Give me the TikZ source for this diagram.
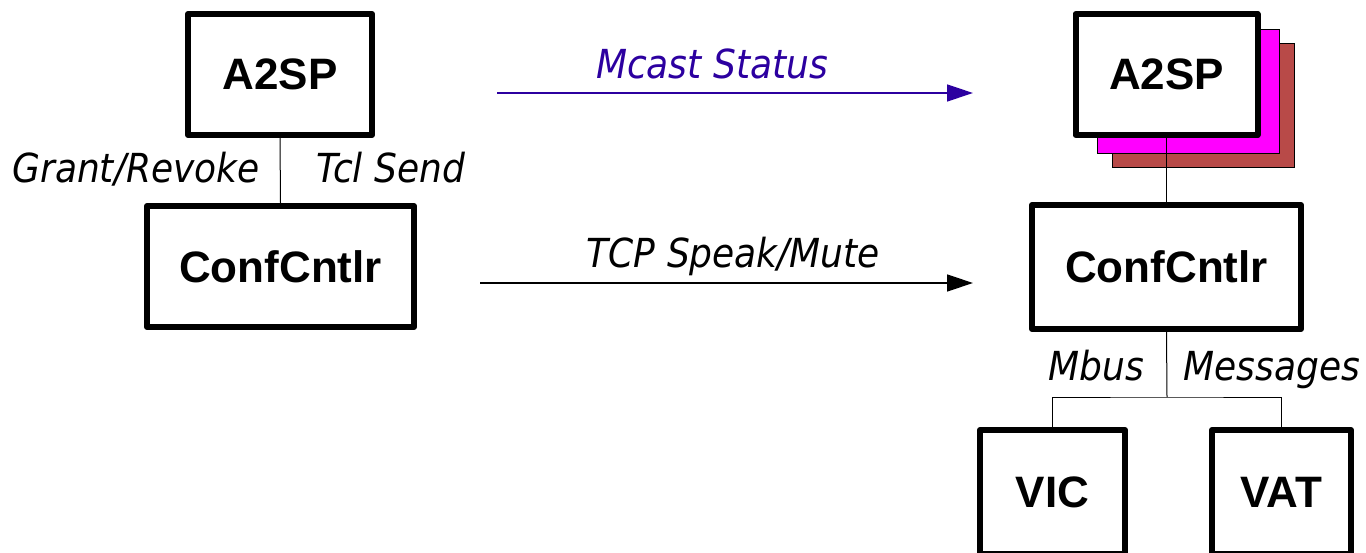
\documentclass[tikz,border=0pt]{standalone}
\usepackage{fontspec}
\setmainfont{Liberation Sans}
\newfontfamily\labfont{DejaVu Sans Condensed}
\usetikzlibrary{arrows.meta}
\definecolor{mcastblue}{RGB}{44,0,160}
\definecolor{stackmag}{RGB}{255,0,255}
\definecolor{stackbrown}{RGB}{184,74,72}
\tikzset{
  boxnode/.style={draw=black, line width=6pt, line join=round, fill=white, inner sep=0pt,
    font=\fontsize{44}{48}\selectfont\bfseries},
  stacknode/.style={draw=black, line width=1pt, inner sep=0pt},
  lab/.style={font=\fontsize{40}{44}\selectfont\labfont\itshape, inner sep=0pt, anchor=base},
  conn/.style={draw=black, line width=1pt},
  msgarrow/.style={line width=1.3pt, -{Triangle[length=26pt,width=17pt]}}
}
\begin{document}
\begin{tikzpicture}[x=1pt,y=-1pt]
\useasboundingbox[fill=white] (0,0) rectangle (1366,553);
% left column
\node[boxnode, minimum width=184pt, minimum height=121pt] (la) at (280,74.5) {A2SP};
\node[boxnode, minimum width=267pt, minimum height=121pt] (lc) at (280.5,266.5) {ConfCntlr};
\draw[conn] (la.south) -- (lc.north);
\node[lab] (grant) at (136,183) {Grant/Revoke};
\node[lab] (tcl) at (390.5,183) {Tcl Send};
% right column stacked A2SP
\node[stacknode, fill=stackbrown, minimum width=182pt, minimum height=124pt] (rb) at (1203,106) {};
\node[stacknode, fill=stackmag, minimum width=182pt, minimum height=124pt] (rm) at (1188,92) {};
\node[boxnode, minimum width=182pt, minimum height=121pt] (ra) at (1166.5,74.5) {A2SP};
\node[boxnode, minimum width=269pt, minimum height=124pt] (rc) at (1166.5,267) {ConfCntlr};
\draw[conn] (ra.south) -- (rc.north);
% VIC / VAT
\node[boxnode, minimum width=145pt, minimum height=124pt] (vic) at (1052.5,492) {VIC};
\node[boxnode, minimum width=139pt, minimum height=124pt] (vat) at (1281.5,492) {VAT};
\coordinate (bus) at (1167,397);
\draw[conn] (rc.south) -- (bus);
\draw[conn] (vic.north) |- (bus) -| (vat.north);
\node[lab] (mbus) at (1096.5,381) {Mbus};
\node[lab] (msgs) at (1272,381) {Messages};
% arrows
\coordinate (m1) at (497,93);
\coordinate (m2) at (973,93);
\draw[msgarrow, draw=mcastblue, fill=mcastblue] (m1) -- (m2);
\node[lab, text=mcastblue] (mcast) at (712,79) {Mcast Status};
\coordinate (t1) at (480,283);
\coordinate (t2) at (973,283);
\draw[msgarrow, draw=black, fill=black] (t1) -- (t2);
\node[lab] (tcp) at (733.5,268) {TCP Speak/Mute};
\end{tikzpicture}
\end{document}
